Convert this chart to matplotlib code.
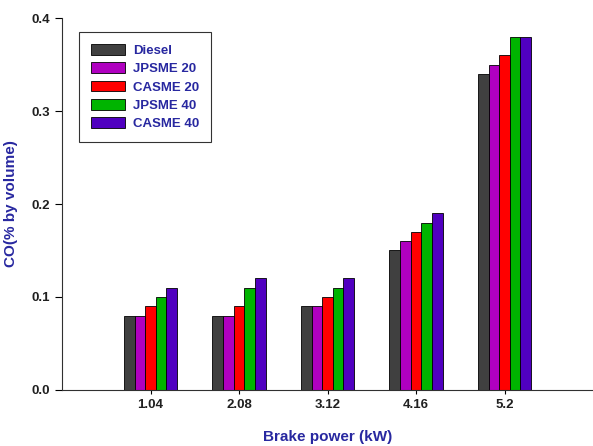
import numpy as np
import matplotlib.pyplot as plt

plt.rcParams['font.family'] = ['Liberation Sans', 'DejaVu Sans']

power = ['1.04', '2.08', '3.12', '4.16', '5.2']
diesel = [0.08, 0.08, 0.09, 0.15, 0.34]
jpsme20 = [0.08, 0.08, 0.09, 0.16, 0.35]
casme20 = [0.09, 0.09, 0.10, 0.17, 0.36]
jpsme40 = [0.10, 0.11, 0.11, 0.18, 0.38]
casme40 = [0.11, 0.12, 0.12, 0.19, 0.38]

series = [diesel, jpsme20, casme20, jpsme40, casme40]
names = ['Diesel', 'JPSME 20', 'CASME 20', 'JPSME 40', 'CASME 40']
colors = ['#404040', '#B000C0', '#FF0000', '#00B400', '#5000C0']

fig = plt.figure(figsize=(5.93, 4.46), dpi=100)
ax = fig.add_axes([0.1046, 0.1256, 0.8954, 0.834])

x = np.arange(1, len(power) + 1)
w = 0.12
for i, (vals, name, c) in enumerate(zip(series, names, colors)):
    ax.bar(x + (i - 2) * w, vals, width=w, color=c, edgecolor='black',
           linewidth=0.6, label=name)

ax.set_xlim(0, 6)
ax.set_ylim(0, 0.4)
ax.set_xticks(x)
ax.set_xticklabels(power)
ax.set_yticks([0.0, 0.1, 0.2, 0.3, 0.4])
ax.set_yticklabels(['0.0', '0.1', '0.2', '0.3', '0.4'])
for lab in ax.get_xticklabels() + ax.get_yticklabels():
    lab.set_fontweight('bold')
    lab.set_fontsize(9.5)
    lab.set_color('#202020')
ax.tick_params(axis='y', direction='out', length=5, width=0.8)
ax.tick_params(axis='x', direction='out', length=3, width=0.8)

ax.spines['top'].set_visible(False)
ax.spines['right'].set_visible(False)
ax.spines['left'].set_color('#303030')
ax.spines['bottom'].set_color('#303030')

ax.set_xlabel('Brake power (kW)', fontsize=11, fontweight='bold',
              color='#2828A0', labelpad=14)
ax.set_ylabel('CO(% by volume)', fontsize=11, fontweight='bold',
              color='#2828A0', labelpad=10)

leg = ax.legend(loc='upper left', bbox_to_anchor=(0.02, 0.98),
                fancybox=False, edgecolor='black', fontsize=9.5,
                handlelength=2.6, handleheight=0.9, labelspacing=0.4,
                handletextpad=0.6, borderpad=0.9)
leg.get_frame().set_linewidth(0.8)
for t in leg.get_texts():
    t.set_color('#2828A0')
    t.set_fontweight('bold')

fig.savefig('out.png', dpi=100)
